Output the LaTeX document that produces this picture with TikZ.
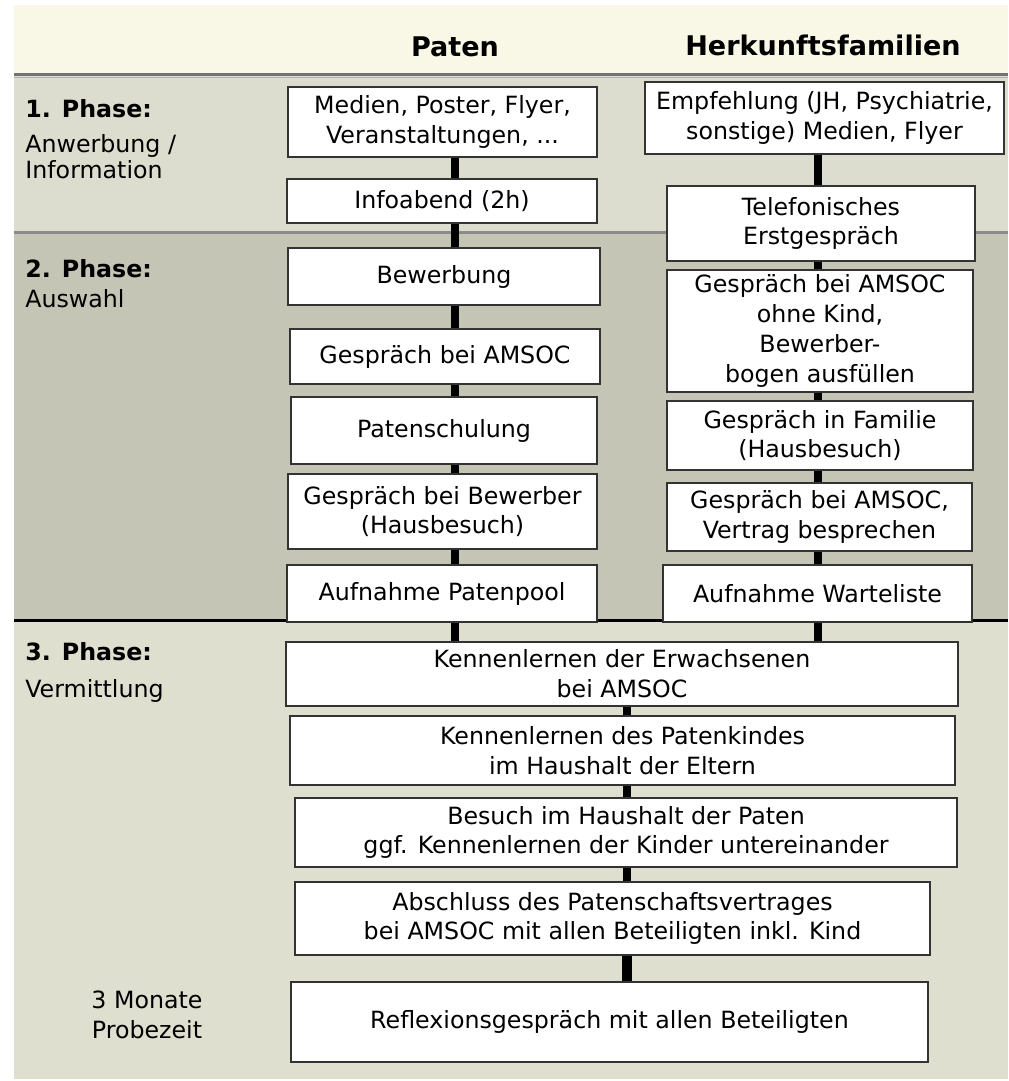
\documentclass[tikz,border=0pt]{standalone}
\usepackage{fontspec}
\setmainfont{DejaVu Sans}
\usepackage{tikz}
\usetikzlibrary{shadows}
\definecolor{kopffarbe}{RGB}{249,248,231}
\definecolor{phaseeins}{RGB}{221,221,207}
\definecolor{phasezwei}{RGB}{197,197,182}
\definecolor{phasedrei}{RGB}{223,223,208}
\tikzset{sz/.style 2 args={minimum width={#1*0.02cm}, minimum height={#2*0.02cm}}}

\begin{document}
\begin{tikzpicture}[
      x=0.02cm, y=-0.02cm,
      every node/.style={font=\fontsize{13.5}{17}\selectfont},
      box/.style={draw=black!80, line width=0.8pt, fill=white, align=center,
                  inner sep=0pt,
                  drop shadow={shadow xshift=0.7pt, shadow yshift=-0.7pt,
                               fill=black!55, opacity=0.6}},
      kopf/.style={font=\fontsize{15.4}{18}\selectfont\bfseries},
      phase/.style={align=left, anchor=north west, inner sep=0pt,
                    font=\fontsize{13.5}{15}\selectfont},
      verb/.style={line width=4.5pt, black}
  ]
      \useasboundingbox (0,0) rectangle (1008,1081);
      % Hintergrund der Phasen
      \fill[white] (0,0) rectangle (1008,1081);
      \fill[kopffarbe] (14,5) rectangle (1008,74);
      \fill[phaseeins] (14,74) rectangle (1008,232);
      \fill[phasezwei] (14,232) rectangle (1008,621);
      \fill[phasedrei] (14,621) rectangle (1008,1079);
      \draw[black!55, line width=1.3pt] (14,74.5) -- (1008,74.5);
      \draw[black!30, line width=1pt] (14,77.5) -- (1008,77.5);
      \draw[black!45, line width=1.5pt] (14,232.5) -- (1008,232.5);
      \draw[black, line width=1.8pt] (14,620.5) -- (1008,620.5);

      % Spaltenkoepfe
      \node[kopf] (paten) at (455,47) {Paten};
      \node[kopf] (herkunft) at (823,45) {Herkunftsfamilien};

      % Phasen
      \node[phase] (ph1) at (25,99) {\textbf{1. Phase:}\\[5pt]Anwerbung /\\Information};
      \node[phase] (ph2) at (25,259) {\textbf{2. Phase:}\\[2pt]Auswahl};
      \node[phase] (ph3) at (25,642) {\textbf{3. Phase:}\\[6pt]Vermittlung};
      \node[align=center, inner sep=0pt] (probe) at (147,1015) {3 Monate\\Probezeit};

      % Spalte Paten
      \node[box, sz={309}{70}] (p1) at (442.5,122) {Medien, Poster, Flyer,\\Veranstaltungen, ...};
      \node[box, sz={310}{44}] (p2) at (442,201) {Infoabend (2h)};
      \node[box, sz={312}{57}] (p3) at (444,276.5) {Bewerbung};
      \node[box, sz={310}{55}] (p4) at (445,356.5) {Gespräch bei AMSOC};
      \node[box, sz={306}{67}] (p5) at (444,430.5) {Patenschulung};
      \node[box, sz={309}{75}] (p6) at (442.5,511.5) {Gespräch bei Bewerber\\(Hausbesuch)};
      \node[box, sz={310}{57}] (p7) at (442,593.5) {Aufnahme Patenpool};

      % Spalte Herkunftsfamilien
      \node[box, sz={359}{72}] (h1) at (824.5,118) {Empfehlung (JH, Psychiatrie,\\sonstige) Medien, Flyer};
      \node[box, sz={308}{75}] (h2) at (821,223.5) {Telefonisches\\Erstgespräch};
      \node[box, sz={306}{122}] (h3) at (820,331) {Gespräch bei AMSOC\\ohne Kind,\\Bewerber-\\bogen ausfüllen};
      \node[box, sz={306}{69}] (h4) at (820,435.5) {Gespräch in Familie\\(Hausbesuch)};
      \node[box, sz={305}{68}] (h5) at (819.5,517) {Gespräch bei AMSOC,\\Vertrag besprechen};
      \node[box, sz={309}{57}] (h6) at (817.5,593.5) {Aufnahme Warteliste};

      % Vermittlung
      \node[box, sz={672}{64}] (k1) at (622,674) {Kennenlernen der Erwachsenen\\bei AMSOC};
      \node[box, sz={665}{69}] (k2) at (622.5,750.5) {Kennenlernen des Patenkindes\\im Haushalt der Eltern};
      \node[box, sz={662}{69}] (k3) at (626,832.5) {Besuch im Haushalt der Paten\\ggf. Kennenlernen der Kinder untereinander};
      \node[box, sz={635}{73}] (k4) at (612.5,918.5) {Abschluss des Patenschaftsvertrages\\bei AMSOC mit allen Beteiligten inkl. Kind};
      \node[box, sz={637}{80}] (k5) at (609.5,1022) {Reflexionsgespräch mit allen Beteiligten};

      % Verbindungen
      \coordinate (lx) at (455,0);
      \coordinate (rx) at (818,0);
      \coordinate (mx) at (627,0);
      \draw[verb] (p1.south -| lx) -- (p2.north -| lx);
      \draw[verb] (p2.south -| lx) -- (p3.north -| lx);
      \draw[verb] (p3.south -| lx) -- (p4.north -| lx);
      \draw[verb] (p4.south -| lx) -- (p5.north -| lx);
      \draw[verb] (p5.south -| lx) -- (p6.north -| lx);
      \draw[verb] (p6.south -| lx) -- (p7.north -| lx);
      \draw[verb] (p7.south -| lx) -- (k1.north -| lx);
      \draw[verb] (h1.south -| rx) -- (h2.north -| rx);
      \draw[verb] (h2.south -| rx) -- (h3.north -| rx);
      \draw[verb] (h3.south -| rx) -- (h4.north -| rx);
      \draw[verb] (h4.south -| rx) -- (h5.north -| rx);
      \draw[verb] (h5.south -| rx) -- (h6.north -| rx);
      \draw[verb] (h6.south -| rx) -- (k1.north -| rx);
      \draw[verb] (k1.south -| mx) -- (k2.north -| mx);
      \draw[verb] (k2.south -| mx) -- (k3.north -| mx);
      \draw[verb] (k3.south -| mx) -- (k4.north -| mx);
      \draw[verb, line width=5.5pt] (k4.south -| mx) -- (k5.north -| mx);
  \end{tikzpicture}
\end{document}
